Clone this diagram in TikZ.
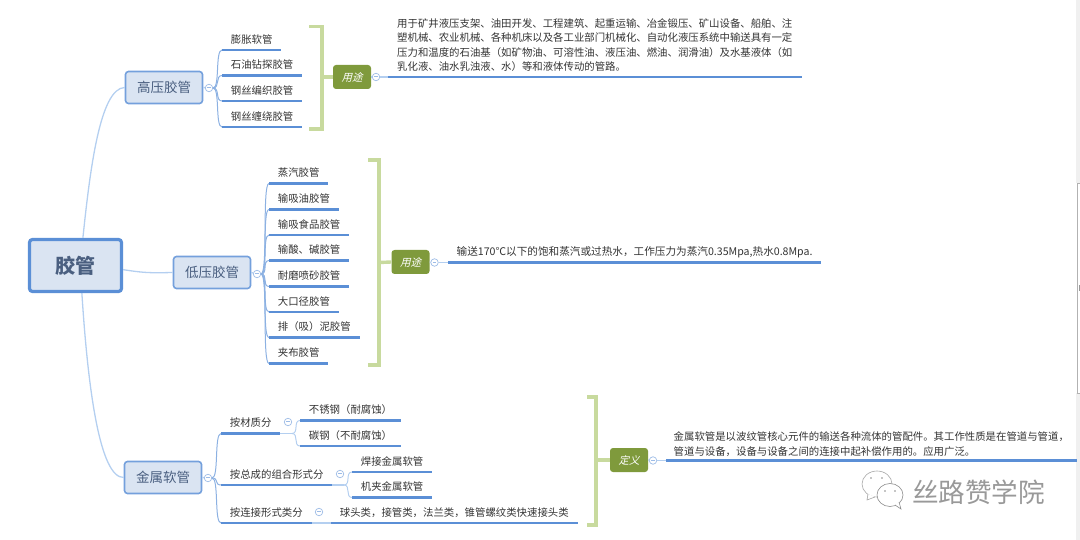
\documentclass[tikz,border=0pt]{standalone}
\usepackage{fontspec}
\setmainfont{Noto Sans CJK SC}
\newfontfamily\slantfont[FakeSlant=0.25]{Noto Sans CJK SC}
\definecolor{rulecol}{HTML}{5B8FD6}
\definecolor{linkcol}{HTML}{B4CFF0}
\definecolor{boxfill}{HTML}{DAE4F2}
\definecolor{boxtext}{HTML}{4A5F80}
\definecolor{bracecol}{HTML}{C8DA9E}
\definecolor{tagfill}{HTML}{7F9A3C}
\tikzset{
  rootbox/.style={draw=rulecol,line width=3.2pt,fill=boxfill,rounded corners=3pt,text=boxtext,
    font=\fontsize{20}{24}\selectfont\bfseries,minimum width=92pt,minimum height=52pt,inner sep=0pt},
  mainbox/.style={draw=rulecol!85,line width=1.6pt,fill=boxfill,rounded corners=3pt,text=boxtext,
    font=\fontsize{13.5}{16}\selectfont,minimum width=77pt,minimum height=32pt,inner sep=0pt},
  tagbox/.style={fill=tagfill,rounded corners=3pt,text=white,font=\fontsize{10.5}{12}\slantfont,
    minimum width=38pt,minimum height=24pt,inner sep=0pt},
  foldmark/.style={circle,draw=rulecol!60,fill=white,line width=.7pt,minimum size=7.5pt,inner sep=0pt,
    text=rulecol!60},
  leaf/.style={anchor=south west,inner xsep=8.7pt,inner ysep=0pt,minimum height=21pt,text=black!80,
    font=\fontsize{10.4}{12}\selectfont},
  note/.style={leaf,minimum height=0pt,inner ysep=4pt,align=left,
    font=\fontsize{10.4}{14.4}\selectfont},
  rulestyle/.style={draw=rulecol,line width=2.2pt},
  link/.style={draw=linkcol,line width=1.3pt},
  branch/.style={draw=rulecol!70,line width=1pt,out=0,in=180,distance=7pt},
  brace/.style={draw=bracecol,line width=3.4pt}
}
\newcommand{\foldbar}{\rule[1.2pt]{3.4pt}{.6pt}}
\begin{document}
\begin{tikzpicture}
  \def\x{1pt}
  \def\y{-1pt}
  \useasboundingbox (0*\x,0*\y) rectangle (1080*\x,540*\y);
  % scroll bar at the right edge
  \fill [black!6] (1076*\x,0*\y) rectangle (1080*\x,183*\y);
  \fill [black!6] (1076*\x,393*\y) rectangle (1080*\x,540*\y);
  \draw [black!30,line width=.8pt] (1080*\x,183*\y) -- (1077*\x,183*\y) -- (1077*\x,393*\y) -- (1080*\x,393*\y);
  \fill [black!40] (1079*\x,285*\y) rectangle (1080*\x,291*\y);
  % main boxes
  \node [rootbox] (G0) at (75.5*\x,265.5*\y) {胶管};
  \node [mainbox] (H0) at (164*\x,87.5*\y) {高压胶管};
  \node [mainbox] (L0) at (212*\x,272.5*\y) {低压胶管};
  \node [mainbox] (M0) at (163*\x,477.5*\y) {金属软管};
  \path [link] (G0.75) .. controls (90*\x,170*\y) and (100*\x,88*\y) .. (H0.west);
  \path [link] (G0.-5) .. controls (145*\x,273*\y) and (150*\x,273*\y) .. (L0.west);
  \path [link] (G0.-77) .. controls (88*\x,390*\y) and (100*\x,478*\y) .. (M0.west);
  % high pressure
  \node [foldmark] (Hc) at (209*\x,88*\y) {\foldbar};
  \node [leaf] (H1) at (222*\x,50*\y) {膨胀软管};
  \node [leaf] (H2) at (222*\x,75.5*\y) {石油钻探胶管};
  \node [leaf] (H3) at (222*\x,101*\y) {钢丝编织胶管};
  \node [leaf] (H4) at (222*\x,127*\y) {钢丝缠绕胶管};
  \draw [link] (H0.east) -- (Hc);
  \foreach \n in {H1,H2,H3,H4} {
    \path (Hc) edge [branch] (\n.south west);
    \draw [rulestyle] (\n.south west) -- (\n.south east);
  }
  \coordinate (Hb0) at (309*\x,26.5*\y);
  \coordinate (Hb1) at (322*\x,26.5*\y);
  \coordinate (Hb2) at (322*\x,129*\y);
  \coordinate (Hb3) at (309*\x,129*\y);
  \coordinate (Hb4) at (322*\x,77*\y);
  \draw [brace] (Hb0) -- (Hb1) -- (Hb2) -- (Hb3);
  \node [tagbox] (Ht) at (352*\x,77*\y) {用途};
  \draw [brace] (Hb4) -- (Ht.west);
  \node [foldmark] (Hd) at (376*\x,77*\y) {\foldbar};
  \node [note,inner xsep=9pt,inner ysep=5pt] (Hn) at (388*\x,77*\y) {用于矿井液压支架、油田开发、工程建筑、起重运输、冶金锻压、矿山设备、船舶、注\\
    塑机械、农业机械、各种机床以及各工业部门机械化、自动化液压系统中输送具有一定\\
    压力和温度的石油基（如矿物油、可溶性油、液压油、燃油、润滑油）及水基液体（如\\
    乳化液、油水乳浊液、水）等和液体传动的管路。};
  \draw [link] (Ht.east) -- (Hd);
  \draw [link] (Hd) -- (Hn.south west);
  \draw [rulestyle] (Hn.south west) -- (Hn.south east);
  % low pressure
  \node [foldmark] (Lc) at (257*\x,274*\y) {\foldbar};
  \node [leaf] (L1) at (269*\x,183.5*\y) {蒸汽胶管};
  \node [leaf] (L2) at (269*\x,209.5*\y) {输吸油胶管};
  \node [leaf] (L3) at (269*\x,235*\y) {输吸食品胶管};
  \node [leaf] (L4) at (269*\x,260.5*\y) {输酸、碱胶管};
  \node [leaf] (L5) at (269*\x,286.5*\y) {耐磨喷砂胶管};
  \node [leaf] (L6) at (269*\x,312*\y) {大口径胶管};
  \node [leaf] (L7) at (269*\x,337.5*\y) {排（吸）泥胶管};
  \node [leaf] (L8) at (269*\x,363.5*\y) {夹布胶管};
  \draw [link] (L0.east) -- (Lc);
  \foreach \n in {L1,L2,L3,L4,L5,L6,L7,L8} {
    \path (Lc) edge [branch] (\n.south west);
    \draw [rulestyle] (\n.south west) -- (\n.south east);
  }
  \coordinate (Lb0) at (368*\x,160*\y);
  \coordinate (Lb1) at (379*\x,160*\y);
  \coordinate (Lb2) at (379*\x,365*\y);
  \coordinate (Lb3) at (368*\x,365*\y);
  \coordinate (Lb4) at (379*\x,262.5*\y);
  \draw [brace] (Lb0) -- (Lb1) -- (Lb2) -- (Lb3);
  \node [tagbox] (Lt) at (410.5*\x,262*\y) {用途};
  \draw [brace] (Lb4) -- (Lt.west);
  \node [foldmark] (Ld) at (434.5*\x,262.5*\y) {\foldbar};
  \node [note,inner xsep=8.5pt,font=\fontsize{10.62}{14.4}\selectfont] (Ln) at (448*\x,262.5*\y) {输送170℃以下的饱和蒸汽或过热水，工作压力为蒸汽0.35Mpa,热水0.8Mpa.};
  \draw [link] (Lt.east) -- (Ld);
  \draw [link] (Ld) -- (Ln.south west);
  \draw [rulestyle] (Ln.south west) -- (Ln.south east);
  % metal hose
  \node [foldmark] (Mc) at (208*\x,478*\y) {\foldbar};
  \node [leaf] (M1) at (221*\x,433.5*\y) {按材质分};
  \node [leaf] (M2) at (221*\x,485*\y) {按总成的组合形式分};
  \node [leaf] (M3) at (221*\x,523*\y) {按连接形式类分};
  \draw [link] (M0.east) -- (Mc);
  \foreach \n in {M1,M2,M3} {
    \path (Mc) edge [branch] (\n.south west);
    \draw [rulestyle] (\n.south west) -- (\n.south east);
  }
  \node [foldmark] (M1c) at (288*\x,422*\y) {\foldbar};
  \node [leaf] (M11) at (300*\x,420.5*\y) {不锈钢（耐腐蚀）};
  \node [leaf] (M12) at (300*\x,446*\y) {碳钢（不耐腐蚀）};
  \coordinate (M1e) at (292*\x,433.5*\y);
  \draw [link] (M1.south east) -- (M1e);
  \foreach \n in {M11,M12} {
    \path (M1e) edge [branch,draw=linkcol] (\n.south west);
    \draw [rulestyle] (\n.south west) -- (\n.south east);
  }
  \node [foldmark] (M2c) at (340*\x,474*\y) {\foldbar};
  \node [leaf] (M21) at (352*\x,472*\y) {焊接金属软管};
  \node [leaf] (M22) at (352*\x,497.5*\y) {机夹金属软管};
  \coordinate (M2e) at (344*\x,485*\y);
  \draw [link] (M2.south east) -- (M2e);
  \foreach \n in {M21,M22} {
    \path (M2e) edge [branch,draw=linkcol] (\n.south west);
    \draw [rulestyle] (\n.south west) -- (\n.south east);
  }
  \node [foldmark] (M3c) at (319*\x,512*\y) {\foldbar};
  \node [leaf] (M31) at (331*\x,523*\y) {球头类，接管类，法兰类，锥管螺纹类快速接头类};
  \draw [link] (M3.south east) -- (M31.south west);
  \draw [rulestyle] (M31.south west) -- (M31.south east);
  \coordinate (Mb0) at (587*\x,397*\y);
  \coordinate (Mb1) at (596*\x,397*\y);
  \coordinate (Mb2) at (596*\x,525*\y);
  \coordinate (Mb3) at (587*\x,525*\y);
  \coordinate (Mb4) at (596*\x,460*\y);
  \draw [brace] (Mb0) -- (Mb1) -- (Mb2) -- (Mb3);
  \node [tagbox] (Mt) at (629*\x,460*\y) {定义};
  \draw [brace] (Mb4) -- (Mt.west);
  \node [foldmark] (Md) at (653*\x,460.5*\y) {\foldbar};
  \node [note,inner xsep=7.5pt] (Mn) at (666*\x,460.5*\y) {金属软管是以波纹管核心元件的输送各种流体的管配件。其工作性质是在管道与管道，\\
    管道与设备，设备与设备之间的连接中起补偿作用的。应用广泛。};
  \draw [link] (Mt.east) -- (Md);
  \draw [link] (Md) -- (Mn.south west);
  \draw [rulestyle] (Mn.south west) -- (Mn.south east);
  % watermark
  \draw [black!35,fill=white,line width=.6pt] (877*\x,484*\y) ellipse (15pt and 13pt);
  \draw [black!35,fill=white,line width=.6pt] (868*\x,494*\y) -- (867*\x,500*\y) -- (875*\x,497*\y);
  \draw [black!45,fill=white,line width=.6pt] (890*\x,495*\y) ellipse (13pt and 11.5pt);
  \draw [black!45,fill=white,line width=.6pt] (895*\x,505*\y) -- (901*\x,509*\y) -- (899*\x,502*\y);
  \fill [black!45] (871*\x,478*\y) circle (.9pt) (882*\x,478*\y) circle (.9pt) (885*\x,491*\y) circle (.9pt) (895*\x,491*\y) circle (.9pt);
  \node [text=black!40,font=\fontsize{26.6}{30}\selectfont,inner sep=0pt] (W0) at (978.5*\x,492*\y) {丝路赞学院};
\end{tikzpicture}
\end{document}
